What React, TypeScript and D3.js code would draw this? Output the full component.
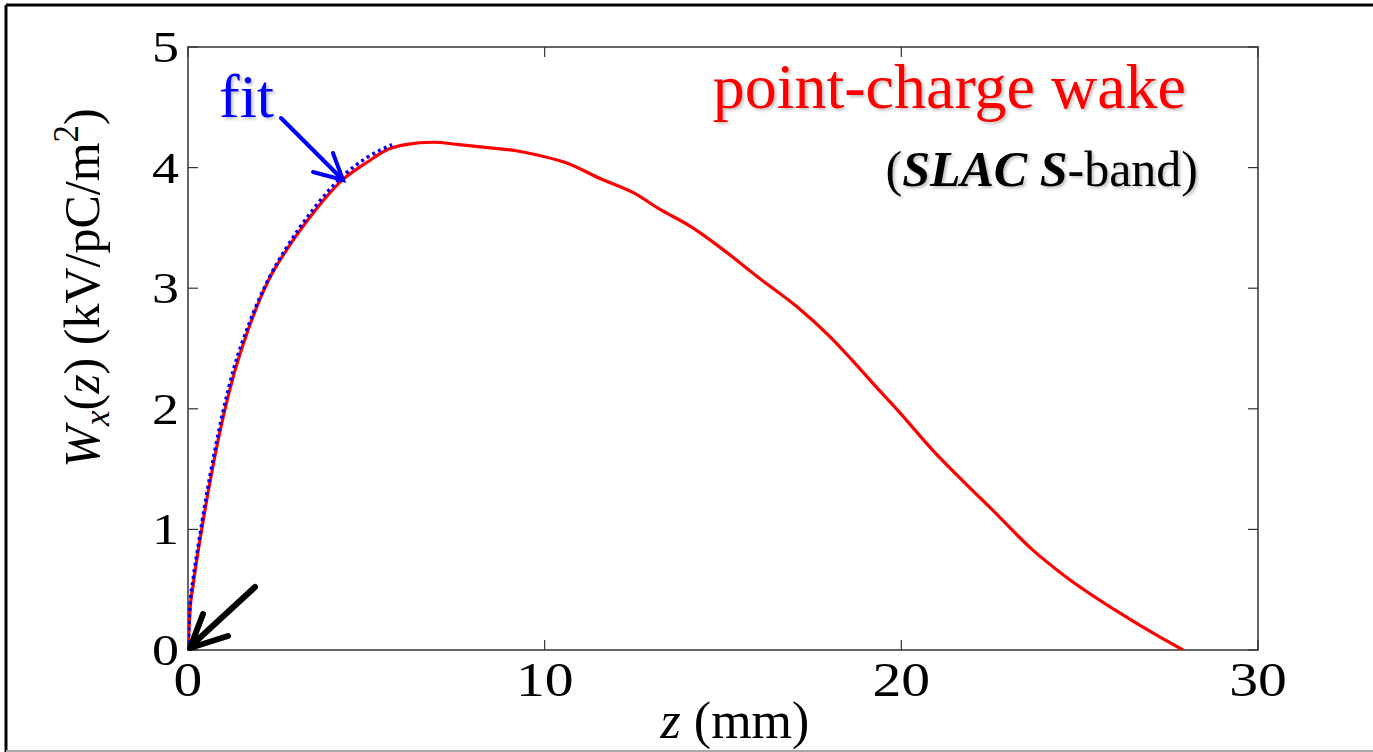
import React from "react";
import * as d3 from "d3";

// Point-charge wake (red, solid)
const wakeZ = [0, 0.05, 0.15, 0.29, 0.5, 0.75, 1.0, 1.3, 1.68, 2.3, 2.77, 3.5, 4.34, 5.0, 5.6, 6.1, 6.87, 7.6, 8.27, 9.2, 9.86, 10.6, 11.55, 12.5, 13.2, 14.1, 15.0, 16.03, 17.06, 17.99, 18.6, 19.3, 19.95, 20.87, 21.8, 22.56, 23.68, 24.6, 26.0, 27.23, 27.9];
const wakeW = [0, 0.3, 0.55, 0.83, 1.2, 1.6, 1.95, 2.3, 2.65, 3.09, 3.32, 3.62, 3.9, 4.04, 4.15, 4.19, 4.21, 4.19, 4.17, 4.14, 4.1, 4.04, 3.91, 3.79, 3.66, 3.51, 3.32, 3.08, 2.85, 2.6, 2.41, 2.18, 1.97, 1.66, 1.38, 1.16, 0.83, 0.61, 0.33, 0.11, 0];

// Fit (blue, dotted)
const fitZ = [0, 0.05, 0.15, 0.29, 0.5, 0.75, 1.0, 1.3, 1.68, 2.3, 2.77, 3.5, 4.34, 5.0, 5.72];
const fitW = [0, 0.33, 0.6, 0.87, 1.25, 1.65, 2.0, 2.35, 2.68, 3.1, 3.34, 3.65, 3.93, 4.08, 4.19];

const xTicks = [0, 10, 20, 30];
const yTicks = [0, 1, 2, 3, 4, 5];

const W = 1373;
const H = 752;
const M = { left: 188, right: 1258, top: 47, bottom: 650 };

export default function App() {
  const x = d3.scaleLinear().domain([0, 30]).range([M.left, M.right]);
  const y = d3.scaleLinear().domain([0, 5]).range([M.bottom, M.top]);

  const line = d3
    .line<[number, number]>()
    .x((d) => x(d[0]))
    .y((d) => y(d[1]))
    .curve(d3.curveMonotoneX);

  const wakePts = wakeZ.map((z, i) => [z, wakeW[i]] as [number, number]);
  const fitPts = fitZ.map((z, i) => [z, fitW[i]] as [number, number]);

  const serif = "'Liberation Serif', 'Times New Roman', serif";
  const axisCol = "#333";
  const tickLen = 10;

  return (
    <svg
      width={W}
      height={H}
      style={{ position: "absolute", left: 0, top: 0, display: "block", background: "#fff" }}
    >
      <defs>
        <filter id="shadow" x="-5%" y="-20%" width="110%" height="140%">
          <feDropShadow dx="2" dy="2" stdDeviation="1.5" floodColor="#000" floodOpacity="0.25" />
        </filter>
        <clipPath id="plotClip">
          <rect x={M.left} y={M.top} width={M.right - M.left} height={M.bottom - M.top} />
        </clipPath>
      </defs>

      {/* outer frame */}
      <line x1={6} y1={5} x2={W} y2={5} stroke="#000" strokeWidth={3} />
      <line x1={6} y1={5} x2={6} y2={H} stroke="#000" strokeWidth={3} />
      <line x1={6} y1={751} x2={W} y2={751} stroke="#aaa" strokeWidth={2} />

      {/* plot box */}
      <rect
        x={M.left}
        y={M.top}
        width={M.right - M.left}
        height={M.bottom - M.top}
        fill="none"
        stroke={axisCol}
        strokeWidth={1.5}
      />

      {/* ticks */}
      {xTicks.map((t) => (
        <g key={"xt" + t}>
          <line x1={x(t)} x2={x(t)} y1={M.bottom} y2={M.bottom - tickLen} stroke={axisCol} strokeWidth={1.2} />
          <line x1={x(t)} x2={x(t)} y1={M.top} y2={M.top + tickLen} stroke={axisCol} strokeWidth={1.2} />
          <text
            transform={`translate(${x(t)},${696}) scale(1.2,1)`}
            textAnchor="middle"
            fontFamily={serif}
            fontSize={48}
            fill="#000"
          >
            {t}
          </text>
        </g>
      ))}
      {yTicks.map((t) => (
        <g key={"yt" + t}>
          <line x1={M.left} x2={M.left + tickLen} y1={y(t)} y2={y(t)} stroke={axisCol} strokeWidth={1.2} />
          <line x1={M.right} x2={M.right - tickLen} y1={y(t)} y2={y(t)} stroke={axisCol} strokeWidth={1.2} />
          <text
            transform={`translate(${179},${y(t) + 15}) scale(1.2,1)`}
            textAnchor="end"
            fontFamily={serif}
            fontSize={45}
            fill="#000"
          >
            {t}
          </text>
        </g>
      ))}

      {/* data */}
      <g clipPath="url(#plotClip)">
        <path d={line(wakePts) || ""} fill="none" stroke="#ff0000" strokeWidth={3.2} strokeLinejoin="round" />
        <path
          d={line(fitPts) || ""}
          fill="none"
          stroke="#0000ff"
          strokeWidth={3.5}
          strokeDasharray="3 3.5"
        />
      </g>

      {/* axis labels */}
      <text x={735} y={738} textAnchor="middle" fontFamily={serif} fontSize={52} fill="#000">
        <tspan fontStyle="italic">z</tspan> (mm)
      </text>
      <text
        transform={`translate(${99},${288}) rotate(-90)`}
        textAnchor="middle"
        fontFamily={serif}
        fontSize={50}
        fill="#000"
      >
        <tspan fontStyle="italic">W</tspan>
        <tspan fontStyle="italic" fontSize={35} dy={10}>x</tspan>
        <tspan dy={-10}>(</tspan>
        <tspan fontStyle="italic">z</tspan>
        <tspan>) (kV/pC/m</tspan>
        <tspan fontSize={35} dy={-21}>2</tspan>
        <tspan dy={21}>)</tspan>
      </text>

      {/* annotations */}
      <text x={1186} y={108} textAnchor="end" fontFamily={serif} fontSize={64} fill="#ff0000" filter="url(#shadow)">
        point-charge wake
      </text>
      <text x={1198} y={186} textAnchor="end" fontFamily={serif} fontSize={50} fill="#000" filter="url(#shadow)">
        (<tspan fontWeight="bold" fontStyle="italic">SLAC S</tspan>-band)
      </text>

      <text x={219} y={117} fontFamily={serif} fontSize={62} fill="#0000ff" filter="url(#shadow)">
        fit
      </text>
      <g stroke="#0000ff" strokeWidth={4} strokeLinecap="round" fill="none">
        <line x1={281} y1={118} x2={343} y2={180} />
        <polyline points="313,172 343,180 333,153" />
      </g>

      <g stroke="#000" strokeWidth={6} strokeLinecap="round" strokeLinejoin="round" fill="none">
        <line x1={255} y1={587} x2={192} y2={645} />
        <polyline points="228,636 190,648 203,614" />
      </g>
    </svg>
  );
}
